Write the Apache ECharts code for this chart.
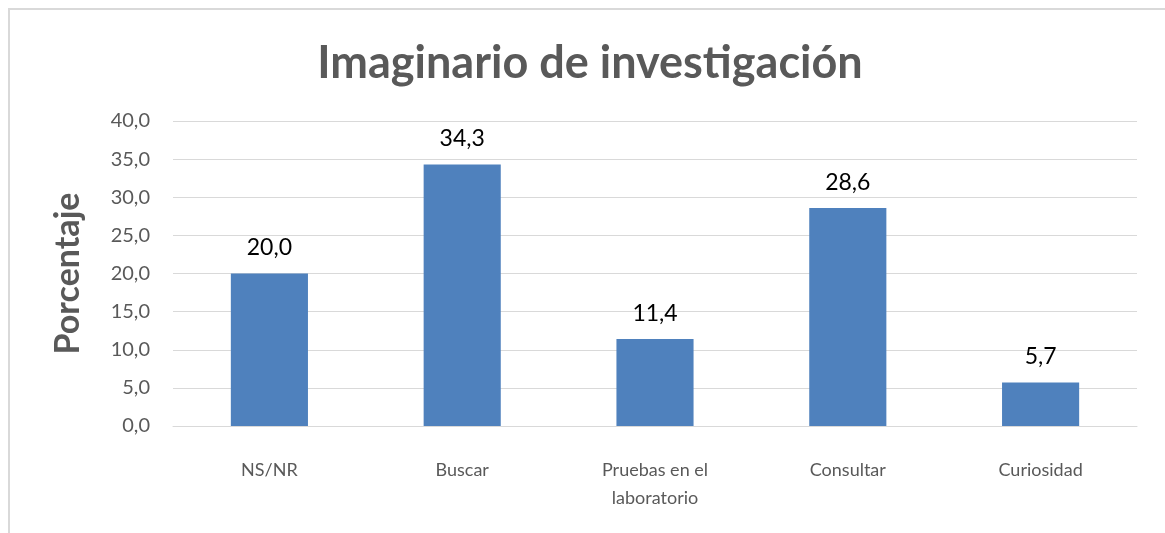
<!DOCTYPE html>
<html>
<head>
    <meta charset="utf-8"/>
    <title>Imaginario de investigación</title>
    <script src="https://cdn.jsdelivr.net/npm/echarts@6/dist/echarts.min.js"></script>
    <style>
        html, body { margin: 0; padding: 0; background: #fff; }
        #frame {
            position: absolute; left: 8px; top: 8px; width: 1157px; height: 525px;
            border-top: 2px solid #d9d9d9; border-left: 2px solid #d9d9d9;
            box-sizing: border-box;
        }
        #main { position: absolute; left: 0; top: 0; width: 1165px; height: 533px; }
    </style>
</head>
<body>
<div id="frame"></div>
<div id="main"></div>
<script>
    // datos del gráfico
    var categorias = ['NS/NR', 'Buscar', 'Pruebas en el\nlaboratorio', 'Consultar', 'Curiosidad'];
    var porcentajes = [20.0, 34.3, 11.4, 28.6, 5.7];

    var fuente = 'Lato, "Open Sans", sans-serif';
    var coma = function (v) { return v.toFixed(1).replace('.', ','); };

    var myChart = echarts.init(document.getElementById('main'));
    var option = {
        animation: false,
        title: {
            text: 'Imaginario de investigación',
            left: 585, top: 36, textAlign: 'center',
            textStyle: { fontFamily: fuente, fontSize: 45, fontWeight: 'bold', color: '#595959' }
        },
        grid: { left: 173, right: 28, top: 121, bottom: 107, containLabel: false },
        xAxis: {
            type: 'category',
            data: categorias,
            axisLine: { lineStyle: { color: '#d9d9d9', width: 1 } },
            axisTick: { show: false },
            axisLabel: {
                margin: 30, fontFamily: fuente, fontSize: 18, color: '#595959', lineHeight: 28
            }
        },
        yAxis: {
            type: 'value',
            min: 0, max: 40, interval: 5,
            name: 'Porcentaje',
            nameLocation: 'middle',
            nameGap: 88,
            nameTextStyle: { fontFamily: fuente, fontSize: 34, fontWeight: 'bold', color: '#595959' },
            axisLine: { show: false },
            axisTick: { show: false },
            splitLine: { lineStyle: { color: '#d9d9d9', width: 1 } },
            axisLabel: {
                margin: 23, fontFamily: fuente, fontSize: 20, color: '#595959',
                formatter: function (v) { return coma(v); }
            }
        },
        series: [{
            type: 'bar',
            data: porcentajes,
            barWidth: '40%',
            itemStyle: { color: '#4f81bd' },
            label: {
                show: true, position: 'top', distance: 14,
                fontFamily: fuente, fontSize: 23, color: '#000',
                formatter: function (p) { return coma(p.value); }
            }
        }]
    };
    myChart.setOption(option);
    window.onresize = function () { myChart.resize(); };
</script>
</body>
</html>
